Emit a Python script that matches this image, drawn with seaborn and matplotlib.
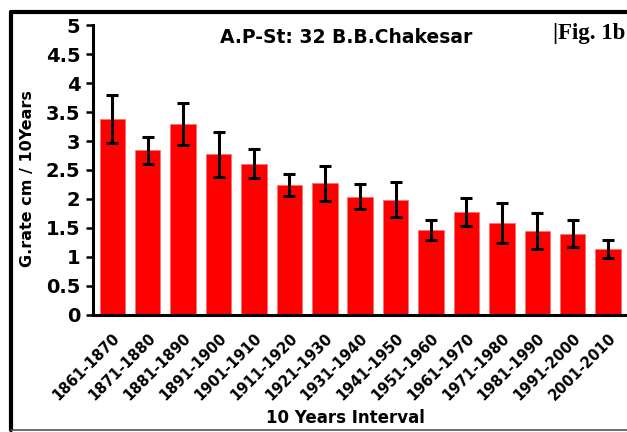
import matplotlib
matplotlib.use("Agg")
import matplotlib.pyplot as plt
from matplotlib.lines import Line2D
import pandas as pd
import seaborn as sns

intervals = ["1861-1870", "1871-1880", "1881-1890", "1891-1900", "1901-1910",
             "1911-1920", "1921-1930", "1931-1940", "1941-1950", "1951-1960",
             "1961-1970", "1971-1980", "1981-1990", "1991-2000", "2001-2010"]
growth_rate = [3.38, 2.84, 3.29, 2.77, 2.61, 2.24, 2.27, 2.04, 1.99, 1.47,
               1.77, 1.59, 1.45, 1.40, 1.14]
std_err = [0.41, 0.235, 0.36, 0.39, 0.245, 0.19, 0.30, 0.21, 0.30, 0.175,
           0.24, 0.345, 0.315, 0.23, 0.155]

df = pd.DataFrame({"interval": intervals, "rate": growth_rate, "err": std_err})

sns.set_style("ticks")
plt.rcParams["font.family"] = ["DejaVu Sans"]
plt.rcParams["text.color"] = "black"
plt.rcParams["axes.labelcolor"] = "black"
plt.rcParams["xtick.color"] = "black"
plt.rcParams["ytick.color"] = "black"

fig = plt.figure(figsize=(6.27, 4.32), dpi=100)
ax = fig.add_axes([0.148, 0.271, 0.849, 0.671])

sns.barplot(data=df, x="interval", y="rate", color="#ff0000", saturation=1,
            width=0.72, edgecolor="#ff7070", linewidth=0.6, ax=ax)
ax.errorbar(range(len(df)), df["rate"], yerr=df["err"], fmt="none",
            ecolor="black", elinewidth=2.2, capsize=4, capthick=2.2)

ax.set_xlim(-0.55, len(df) - 0.52)
ax.set_ylim(0, 5)
ax.set_yticks([0, 0.5, 1, 1.5, 2, 2.5, 3, 3.5, 4, 4.5, 5])
ax.set_yticklabels(["0", "0.5", "1", "1.5", "2", "2.5", "3", "3.5", "4", "4.5", "5"],
                   fontsize=14, fontweight="bold")
ax.tick_params(axis="y", direction="out", length=5, width=1.8, pad=4)
ax.tick_params(axis="x", length=0, pad=11)
ax.set_xticks(range(len(df)))
ax.set_xticklabels(intervals, rotation=45, ha="right", rotation_mode="anchor",
                   fontsize=10.5, fontweight="bold")

for s in ["top", "right"]:
    ax.spines[s].set_visible(False)
for s in ["left", "bottom"]:
    ax.spines[s].set_linewidth(2.2)
    ax.spines[s].set_color("black")

ax.set_xlabel("10 Years Interval", fontsize=12, fontweight="bold")
ax.set_ylabel("G.rate cm / 10Years", fontsize=11.5, fontweight="bold")
ax.xaxis.set_label_coords(0.475, -0.355)
ax.xaxis.label.set_va("center")
ax.yaxis.set_label_coords(-0.123, 0.469)
ax.yaxis.label.set_va("center")

fig.text(0.552, 0.913, "A.P-St: 32 B.B.Chakesar", ha="center", va="center",
         fontsize=13.5, fontweight="bold")
fig.text(0.998, 0.922, "|Fig. 1b", ha="right", va="center",
         fontsize=16.5, fontweight="bold", family="Liberation Serif")

# outer frame
fig.add_artist(Line2D([0.017, 1.0], [0.973, 0.973], color="black", lw=3,
                      transform=fig.transFigure))
fig.add_artist(Line2D([0.017, 0.017], [0.005, 0.973], color="black", lw=3,
                      transform=fig.transFigure))
fig.add_artist(Line2D([0.017, 1.0], [0.005, 0.005], color="#555555", lw=1.2,
                      transform=fig.transFigure))

fig.savefig("out.png", dpi=100)
